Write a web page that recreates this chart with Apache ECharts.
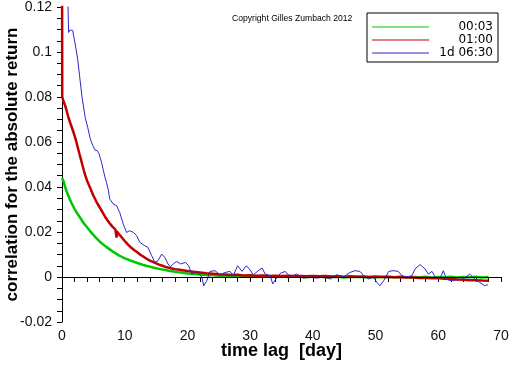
<!DOCTYPE html>
<html>
<head>
<meta charset="utf-8">
<script src="https://cdn.jsdelivr.net/npm/echarts@6/dist/echarts.min.js"></script>
<style>html,body{margin:0;padding:0;background:#fff}#c{width:512px;height:366px}</style>
</head>
<body>
<div id="c"></div>
<script>
var seriesNames = ['00:03', '01:00', '1d 06:30'];
var xTicks = [0, 10, 20, 30, 40, 50, 60, 70];
var yTicks = [-0.02, 0, 0.02, 0.04, 0.06, 0.08, 0.1, 0.12];
var xTitle = 'time lag  [day]';
var yTitle = 'correlation for the absolute return';
var copyright = 'Copyright Gilles Zumbach 2012';

var green = [[0,0.0440],[0.25,0.0425],[0.5,0.0400],[0.75,0.0380],[1,0.0362],[1.25,0.0345],[1.5,0.0330],[1.75,0.0316],[2,0.0302],[2.5,0.0280],[3,0.0259],[3.5,0.0238],[4,0.0221],[4.5,0.0203],[5,0.0187],[5.5,0.0172],[6,0.0158],[6.5,0.0146],[7,0.0135],[7.5,0.0125],[8,0.0115],[8.5,0.0106],[9,0.0097],[9.5,0.0090],[10,0.0083],[10.5,0.0078],[11,0.0072],[11.5,0.0067],[12,0.0062],[12.5,0.0058],[13,0.0053],[13.5,0.0049],[14,0.0046],[14.5,0.0042],[15,0.0039],[15.5,0.0036],[16,0.0033],[16.5,0.0031],[17,0.0028],[17.5,0.0026],[18,0.0023],[18.5,0.0021],[19,0.0020],[19.5,0.0018],[20,0.0016],[21,0.0013],[22,0.0011],[23,0.0009],[24,0.0008],[25,0.0006],[26,0.0006],[27,0.0004],[28,0.0005],[29,0.0003],[30,0.0004],[31,0.0002],[32,0.0003],[33,0.0001],[34,0.0003],[35,0.0002],[36,0.0000],[37,0.0002],[38,0.0001],[39,-0.0001],[40,0.0001],[41,0.0002],[42,-0.0001],[43,0.0000],[44,0.0001],[45,-0.0002],[46,0.0000],[47,0.0001],[48,-0.0001],[49,0.0000],[50,-0.0002],[51,0.0001],[52,0.0000],[53,-0.0001],[54,0.0001],[55,-0.0002],[56,0.0000],[57,-0.0001],[58,0.0001],[59,-0.0002],[60,0.0000],[61,-0.0001],[62,0.0001],[63,-0.0002],[64,0.0000],[65,-0.0001],[66,0.0001],[67,-0.0002],[68,0.0000]];

var red = [[0,0.1500],[0.04,0.0800],[0.25,0.0780],[0.5,0.0762],[0.75,0.0738],[1,0.0712],[1.25,0.0690],[1.5,0.0670],[1.75,0.0650],[2,0.0628],[2.25,0.0605],[2.5,0.0578],[2.75,0.0550],[3,0.0525],[3.25,0.0498],[3.5,0.0472],[3.75,0.0448],[4,0.0428],[4.5,0.0395],[5,0.0362],[5.5,0.0334],[6,0.0310],[6.5,0.0286],[7,0.0262],[7.5,0.0242],[8,0.0225],[8.5,0.0212],[8.65,0.0206],[8.7,0.0175],[8.75,0.0204],[9,0.0193],[9.5,0.0177],[10,0.0160],[10.5,0.0145],[11,0.0131],[11.5,0.0120],[12,0.0110],[12.5,0.0099],[13,0.0090],[13.5,0.0081],[14,0.0073],[14.5,0.0067],[15,0.0061],[15.5,0.0055],[16,0.0050],[16.5,0.0045],[17,0.0041],[17.5,0.0038],[18,0.0035],[18.5,0.0033],[19,0.0031],[19.5,0.0029],[20,0.0027],[21,0.0023],[22,0.0020],[23,0.0017],[24,0.0015],[25,0.0012],[26,0.0011],[27,0.0009],[28,0.0010],[29,0.0007],[30,0.0008],[31,0.0006],[32,0.0007],[33,0.0005],[34,0.0006],[35,0.0004],[36,0.0006],[37,0.0004],[38,0.0005],[39,0.0003],[40,0.0004],[41,0.0003],[42,0.0004],[43,0.0002],[44,0.0003],[45,0.0001],[46,0.0003],[47,0.0001],[48,0.0002],[49,0.0000],[50,0.0002],[51,0.0000],[52,0.0001],[53,-0.0001],[54,0.0000],[55,-0.0002],[56,-0.0002],[57,-0.0004],[58,-0.0004],[59,-0.0006],[60,-0.0006],[61,-0.0008],[62,-0.0009],[63,-0.0011],[64,-0.0012],[65,-0.0014],[66,-0.0014],[67,-0.0016],[68,-0.0017]];

var blue = [[0.85,0.1350],[1.05,0.1087],[1.3,0.1098],[1.7,0.1096],[2.1,0.1036],[2.5,0.0969],[2.8,0.0895],[3.2,0.0798],[3.7,0.0709],[4.1,0.0665],[4.5,0.0615],[4.9,0.0585],[5.26,0.0564],[5.6,0.0562],[5.9,0.0548],[6.3,0.0510],[6.85,0.0443],[7.1,0.0420],[7.4,0.0385],[7.6,0.0347],[8.2,0.0324],[8.7,0.0317],[9.2,0.0287],[9.77,0.0235],[10.3,0.0198],[10.8,0.0206],[11.4,0.0198],[11.9,0.0184],[12.4,0.0154],[13.2,0.0139],[13.7,0.0132],[14.3,0.0095],[14.8,0.0065],[15.3,0.0072],[15.9,0.0102],[16.4,0.0087],[16.9,0.0058],[17.3,0.0045],[17.8,0.0060],[18.3,0.0069],[18.9,0.0058],[19.7,0.0065],[20.2,0.0050],[20.7,0.0013],[21.5,0.0025],[22.3,0.0000],[22.6,-0.0039],[23.1,-0.0016],[23.6,0.0025],[24.4,0.0028],[25.2,0.0010],[26.0,0.0020],[26.8,0.0025],[27.3,0.0006],[28.0,0.0050],[28.7,0.0025],[29.4,0.0050],[30.0,0.0031],[30.5,0.0009],[31.3,0.0028],[31.9,0.0040],[32.4,0.0013],[33.2,0.0006],[33.6,-0.0031],[34.1,-0.0009],[34.8,0.0016],[35.6,0.0025],[36.4,0.0000],[37.4,0.0013],[38.5,-0.0005],[39.6,0.0001],[40.6,-0.0005],[41.7,0.0000],[42.8,-0.0009],[43.8,0.0010],[44.9,0.0000],[45.9,0.0020],[46.7,0.0028],[47.5,0.0025],[48.1,0.0006],[48.9,-0.0009],[49.7,0.0000],[50.2,-0.0024],[50.7,-0.0039],[51.3,-0.0016],[52.1,0.0025],[52.8,0.0028],[53.6,0.0025],[54.2,0.0006],[55.0,0.0000],[55.8,0.0006],[56.3,0.0036],[57.1,0.0055],[57.9,0.0036],[58.4,0.0013],[59.0,0.0025],[59.5,0.0000],[60.3,-0.0005],[60.8,0.0028],[61.3,-0.0009],[61.9,-0.0016],[62.9,-0.0013],[64.0,-0.0009],[65.0,0.0013],[65.8,-0.0009],[66.6,-0.0024],[67.4,-0.0039],[67.9,-0.0034]];

var colors = ['#00c800', '#c00000', '#2828c8'];
var lineWidths = [2.5, 2.5, 1];
var dataSets = [green, red, blue];

var chart = echarts.init(document.getElementById('c'), null, {renderer: 'canvas'});
var labelFont = {color: '#111', fontSize: 14, fontFamily: 'Liberation Sans, Arial, sans-serif'};
var legendIcon = 'path://M0,0 L57,0 L57,1 L0,1 Z';

var series = seriesNames.map(function (n, i) {
  var s = {
    name: n,
    type: 'line',
    data: dataSets[i],
    symbol: 'none',
    showSymbol: false,
    animation: false,
    clip: true,
    lineStyle: {color: colors[i], width: lineWidths[i]},
    itemStyle: {color: colors[i]},
    z: 2 + i
  };
  if (i === 0) {
    s.markLine = {
      silent: true, symbol: ['none', 'none'], label: {show: false},
      lineStyle: {color: '#000', width: 1, type: 'solid'},
      data: [{yAxis: 0}], animation: false
    };
  }
  return s;
});

chart.setOption({
  animation: false,
  backgroundColor: '#fff',
  grid: {left: 62, right: 11, top: 7, bottom: 44, containLabel: false, outerBoundsMode: 'none'},
  xAxis: {
    type: 'value',
    min: xTicks[0], max: xTicks[xTicks.length - 1], interval: xTicks[1] - xTicks[0],
    name: xTitle, nameLocation: 'middle', nameGap: 20, nameMoveOverlap: false,
    nameTextStyle: {color: '#000', fontSize: 18, fontWeight: 'bold', fontFamily: 'Liberation Sans, Arial, sans-serif'},
    axisLine: {show: true, lineStyle: {color: '#000', width: 1}},
    axisTick: {show: true, inside: false, length: 5, lineStyle: {color: '#000'}},
    minorTick: {show: true, splitNumber: 5, length: 5, lineStyle: {color: '#000'}},
    axisLabel: Object.assign({margin: 7}, labelFont),
    splitLine: {show: false}
  },
  yAxis: {
    type: 'value',
    min: yTicks[0], max: yTicks[yTicks.length - 1], interval: yTicks[1] - yTicks[0],
    name: yTitle, nameLocation: 'middle', nameGap: 41, nameMoveOverlap: false,
    nameTextStyle: {color: '#000', fontSize: 17, fontWeight: 'bold', fontFamily: 'Liberation Sans, Arial, sans-serif'},
    axisLine: {show: true, lineStyle: {color: '#000', width: 1}},
    axisTick: {show: true, inside: false, length: 5, lineStyle: {color: '#000'}},
    minorTick: {show: true, splitNumber: 4, length: 5, lineStyle: {color: '#000'}},
    axisLabel: Object.assign({margin: 10}, labelFont),
    splitLine: {show: false}
  },
  legend: {
    orient: 'vertical',
    left: 367, top: 13,
    padding: [8, 5, 3, 5],
    itemWidth: 57, itemHeight: 14, itemGap: 1,
    borderColor: '#000', borderWidth: 1, borderRadius: 0,
    backgroundColor: '#fff',
    icon: legendIcon,
    formatter: '{r|{name}}',
    textStyle: {
      color: '#000', fontSize: 12, fontFamily: 'DejaVu Sans, sans-serif',
      rich: {r: {width: 59, align: 'right', fontSize: 12, fontFamily: 'DejaVu Sans, sans-serif', color: '#000'}}
    },
    data: seriesNames
  },
  graphic: [{
    type: 'text', left: 232, top: 14,
    style: {text: copyright, fill: '#000', font: '8.6px "Liberation Sans", Arial, sans-serif'}
  }],
  series: series
});
</script>
</body>
</html>
